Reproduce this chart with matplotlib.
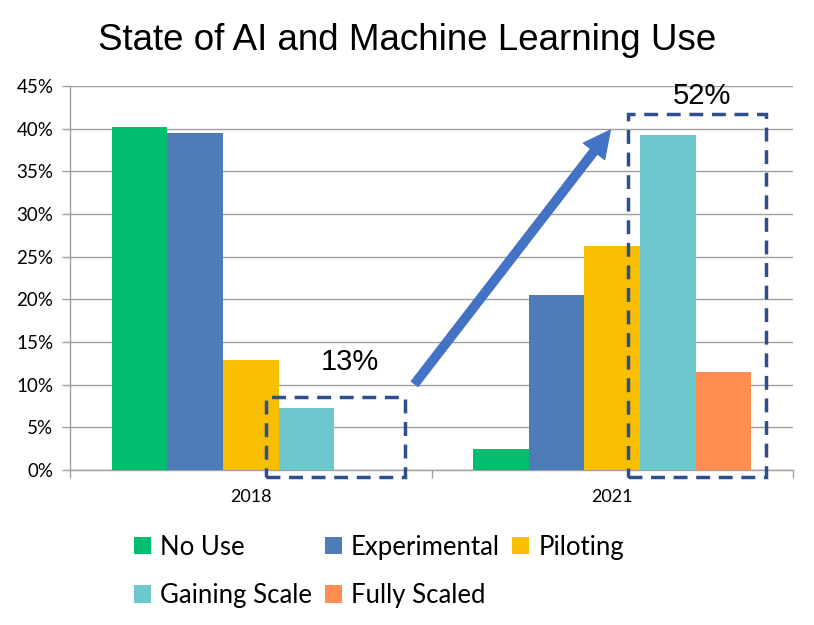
import matplotlib
matplotlib.use("Agg")
import matplotlib.pyplot as plt
from matplotlib.patches import Rectangle, FancyArrowPatch
import numpy as np

categories = ["2018", "2021"]
series_names = ["No Use", "Experimental", "Piloting", "Gaining Scale", "Fully Scaled"]
no_use = [0.402, 0.025]
experimental = [0.395, 0.205]
piloting = [0.129, 0.262]
gaining_scale = [0.073, 0.393]
fully_scaled = [0.0, 0.115]
yticks = [0, 0.05, 0.10, 0.15, 0.20, 0.25, 0.30, 0.35, 0.40, 0.45]
ytick_labels = ["0%", "5%", "10%", "15%", "20%", "25%", "30%", "35%", "40%", "45%"]

colors = ["#00BE6E", "#4E7CB6", "#F8BE00", "#6CC8CC", "#FF8C50"]
values = [no_use, experimental, piloting, gaining_scale, fully_scaled]

fig = plt.figure(figsize=(8.14, 6.25), dpi=100)
ax = fig.add_axes([70/814, 1-470/625, (793-70)/814, (470-86)/625])

x = np.arange(len(categories))
bw = 0.1538
handles = []
for i, (name, vals, c) in enumerate(zip(series_names, values, colors)):
    h = ax.bar(x + (i - 2) * bw, vals, width=bw, color=c, label=name, zorder=3)
    handles.append(h)

ax.set_xlim(-0.5, 1.5)
ax.set_ylim(0, 0.45)
ax.set_yticks(yticks)
ax.set_yticklabels(ytick_labels, fontsize=13.5, family="Lato")
ax.set_xticks(x)
ax.set_xticklabels(categories, fontsize=13, family="Lato")
ax.tick_params(axis="x", length=0, pad=14)
ax.set_xticks([-0.5, 0.5, 1.5], minor=True)
ax.tick_params(axis="x", which="minor", length=6, color="#A0A0A0", width=1)
ax.tick_params(axis="y", length=6, color="#A0A0A0", width=1, pad=6)
ax.grid(axis="y", color="#A0A0A0", linewidth=1, zorder=0)
for s in ["top", "right"]:
    ax.spines[s].set_visible(False)
for s in ["left", "bottom"]:
    ax.spines[s].set_color("#A0A0A0")
    ax.spines[s].set_linewidth(1)

box_color = "#2E4F8C"
r1 = Rectangle((0.042, -0.0082), 0.4267 - 0.042, 0.0855 + 0.0082, fill=False,
               edgecolor=box_color, linewidth=2.5, linestyle=(0, (4, 2.5)),
               clip_on=False, zorder=5)
r2 = Rectangle((1.0436, -0.0082), 1.4253 - 1.0436, 0.4172 + 0.0082, fill=False,
               edgecolor=box_color, linewidth=2.5, linestyle=(0, (4, 2.5)),
               clip_on=False, zorder=5)
ax.add_patch(r1)
ax.add_patch(r2)

arrow = FancyArrowPatch((0.4488, 0.0984), (0.9993, 0.4008),
                        arrowstyle="simple,head_length=1.6,head_width=1.6,tail_width=0.5",
                        mutation_scale=12, color="#4472C4", zorder=6, clip_on=False)
ax.add_patch(arrow)

ax.text(0.2746, 0.1266, "13%", ha="center", va="center", fontsize=21,
        family="Liberation Sans", zorder=7)
ax.text(1.248, 0.438, "52%", ha="center", va="center", fontsize=21,
        family="Liberation Sans", zorder=7)

fig.text(407/814, 1-40/625, "State of AI and Machine Learning Use", ha="center",
         va="center", fontsize=26.5, family="Liberation Sans")

order = [0, 3, 1, 4, 2]
leg = fig.legend([handles[i] for i in order], [series_names[i] for i in order],
                 ncol=3, loc="upper left", bbox_to_anchor=(121/814, 1-522/625),
                 frameon=False, prop={"family": "Lato", "size": 18.5},
                 handlelength=0.66, handleheight=0.66, handletextpad=0.35,
                 columnspacing=0.5, labelspacing=0.9, borderpad=0)

fig.savefig("out.png", dpi=100)
